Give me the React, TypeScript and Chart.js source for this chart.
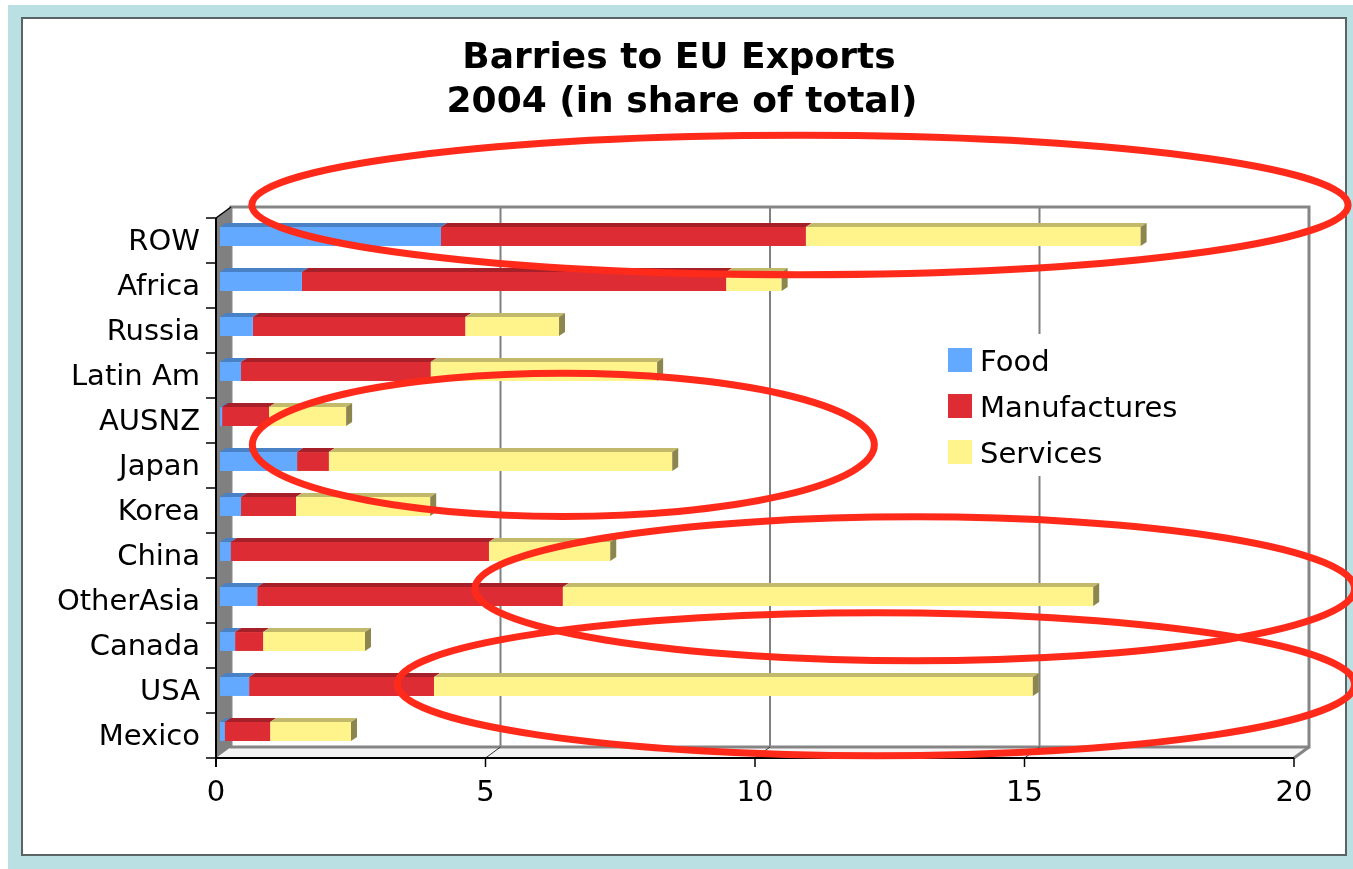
import React, { useEffect, useRef } from "react";
import { Chart, registerables } from "chart.js";

Chart.register(...registerables);

// ---------- data ----------
const categories = ["ROW", "Africa", "Russia", "Latin Am", "AUSNZ", "Japan", "Korea", "China", "OtherAsia", "Canada", "USA", "Mexico"];
const seriesNames = ["Food", "Manufactures", "Services"];
const food = [4.10, 1.52, 0.61, 0.39, 0.04, 1.43, 0.39, 0.20, 0.69, 0.28, 0.54, 0.09];
const manufactures = [6.77, 7.87, 3.94, 3.52, 0.87, 0.59, 1.02, 4.79, 5.67, 0.52, 3.43, 0.84];
const services = [6.21, 1.03, 1.74, 4.20, 1.43, 6.37, 2.49, 2.25, 9.84, 1.89, 11.11, 1.50];
const xTicks = [0, 5, 10, 15, 20];
const titleLines = ["Barries to EU Exports", "2004 (in share of total)"];

// hand-drawn annotation ellipses, in data units (value axis / category index)
const ellipseCenterValue = [10.76, 6.37, 12.89, 12.17];
const ellipseCenterRow = [-0.70, 4.63, 7.83, 9.95];
const ellipseRadiusValue = [10.17, 5.77, 8.16, 8.88];
const ellipseRadiusRow = [1.55, 1.59, 1.60, 1.59];

// ---------- styles ----------
const FONT = '"DejaVu Sans", Verdana, sans-serif';
const frontColors = ["#63a9ff", "#dd2c33", "#fff48c"];
const topColors = ["#4a80c4", "#a6202a", "#c3b96a"];
const sideColors = ["#3d6aa3", "#8a1a22", "#8c864e"];
const FRONT = { dx: -4, dy: 4 };
const BACK = { dx: 11, dy: -7 };
const DEPTH = { dx: 6, dy: -4 };

const chart3d = {
  id: "chart3d",
  beforeDraw(chart: any) {
    const { ctx, width, height } = chart;
    ctx.save();
    ctx.fillStyle = "#ffffff";
    ctx.fillRect(0, 0, width, height);
    ctx.fillStyle = "#bae0e3";
    ctx.fillRect(8, 5, width - 8, height - 5);
    ctx.fillStyle = "#ffffff";
    ctx.fillRect(22, 18, 1324, 837);
    ctx.strokeStyle = "#5b6464";
    ctx.lineWidth = 2;
    ctx.strokeRect(22, 18, 1324, 837);
    ctx.fillStyle = "#000000";
    ctx.font = `bold 36px ${FONT}`;
    ctx.textAlign = "center";
    ctx.textBaseline = "alphabetic";
    ctx.fillText(titleLines[0], 679, 68);
    ctx.fillText(titleLines[1], 682, 112);
    ctx.restore();
  },
  beforeDatasetsDraw(chart: any) {
    const { ctx, chartArea: a, scales } = chart;
    const xs = scales.x;
    const L = a.left, R = a.right, T = a.top, B = a.bottom;
    ctx.save();
    // back wall
    ctx.fillStyle = "#ffffff";
    ctx.fillRect(L + BACK.dx, T + BACK.dy, R - L, B - T);
    // floor
    ctx.beginPath();
    ctx.moveTo(L + FRONT.dx, B + FRONT.dy);
    ctx.lineTo(R + FRONT.dx, B + FRONT.dy);
    ctx.lineTo(R + BACK.dx, B + BACK.dy);
    ctx.lineTo(L + BACK.dx, B + BACK.dy);
    ctx.closePath();
    ctx.fillStyle = "#f4f4f4";
    ctx.fill();
    // gridlines on back wall
    ctx.strokeStyle = "#808080";
    ctx.lineWidth = 2;
    xTicks.forEach((v) => {
      if (v === xTicks[0]) return;
      const px = xs.getPixelForValue(v);
      ctx.beginPath();
      ctx.moveTo(px + BACK.dx, T + BACK.dy);
      ctx.lineTo(px + BACK.dx, B + BACK.dy);
      ctx.stroke();
    });
    // back wall border
    ctx.lineWidth = 3;
    ctx.strokeStyle = "#858585";
    ctx.strokeRect(L + BACK.dx, T + BACK.dy, R - L, B - T);
    // floor right edge
    ctx.beginPath();
    ctx.moveTo(R + FRONT.dx, B + FRONT.dy);
    ctx.lineTo(R + BACK.dx, B + BACK.dy);
    ctx.stroke();
    // floor gridlines
    ctx.strokeStyle = "#333333";
    ctx.lineWidth = 1;
    xTicks.forEach((v) => {
      if (v === xTicks[0] || v === xTicks[xTicks.length - 1]) return;
      const px = xs.getPixelForValue(v);
      ctx.beginPath();
      ctx.moveTo(px + FRONT.dx, B + FRONT.dy);
      ctx.lineTo(px + BACK.dx, B + BACK.dy);
      ctx.stroke();
    });
    // left wall
    ctx.beginPath();
    ctx.moveTo(L + FRONT.dx, T + FRONT.dy);
    ctx.lineTo(L + BACK.dx, T + BACK.dy);
    ctx.lineTo(L + BACK.dx, B + BACK.dy);
    ctx.lineTo(L + FRONT.dx, B + FRONT.dy);
    ctx.closePath();
    ctx.fillStyle = "#808080";
    ctx.fill();
    ctx.strokeStyle = "#000000";
    ctx.lineWidth = 1.5;
    ctx.beginPath();
    ctx.moveTo(L + FRONT.dx, T + FRONT.dy);
    ctx.lineTo(L + BACK.dx, T + BACK.dy);
    ctx.stroke();
    // front axes
    ctx.lineWidth = 2;
    ctx.beginPath();
    ctx.moveTo(L + FRONT.dx, T + FRONT.dy);
    ctx.lineTo(L + FRONT.dx, B + FRONT.dy + 9);
    ctx.moveTo(L + FRONT.dx, B + FRONT.dy);
    ctx.lineTo(R + FRONT.dx, B + FRONT.dy);
    ctx.stroke();
    // category ticks
    const n = categories.length;
    const band = (B - T) / n;
    ctx.lineWidth = 1.5;
    for (let k = 0; k <= n; k++) {
      const yy = T + FRONT.dy + k * band;
      ctx.beginPath();
      ctx.moveTo(L + FRONT.dx - 10, yy);
      ctx.lineTo(L + FRONT.dx, yy);
      ctx.stroke();
    }
    // value ticks
    xTicks.forEach((v) => {
      const px = xs.getPixelForValue(v) + FRONT.dx;
      ctx.beginPath();
      ctx.moveTo(px, B + FRONT.dy);
      ctx.lineTo(px, B + FRONT.dy + 9);
      ctx.stroke();
    });
    ctx.restore();
  },
  afterDatasetsDraw(chart: any) {
    const { ctx } = chart;
    ctx.save();
    const nSets = chart.data.datasets.length;
    const metas = [];
    for (let d = 0; d < nSets; d++) metas.push(chart.getDatasetMeta(d));
    categories.forEach((_, i) => {
      let lastIdx = -1;
      for (let d = 0; d < nSets; d++) {
        const val = chart.data.datasets[d].data[i];
        const el = metas[d].data[i];
        if (!el || !(val > 0)) continue;
        const left = Math.min(el.base, el.x);
        const right = Math.max(el.base, el.x);
        const top = el.y - el.height / 2;
        ctx.beginPath();
        ctx.moveTo(left, top);
        ctx.lineTo(left + DEPTH.dx, top + DEPTH.dy);
        ctx.lineTo(right + DEPTH.dx, top + DEPTH.dy);
        ctx.lineTo(right, top);
        ctx.closePath();
        ctx.fillStyle = topColors[d];
        ctx.fill();
        lastIdx = d;
      }
      if (lastIdx >= 0) {
        const el = metas[lastIdx].data[i];
        const right = Math.max(el.base, el.x);
        const top = el.y - el.height / 2;
        const bottom = el.y + el.height / 2;
        ctx.beginPath();
        ctx.moveTo(right, top);
        ctx.lineTo(right + DEPTH.dx, top + DEPTH.dy);
        ctx.lineTo(right + DEPTH.dx, bottom + DEPTH.dy);
        ctx.lineTo(right, bottom);
        ctx.closePath();
        ctx.fillStyle = sideColors[lastIdx];
        ctx.fill();
      }
    });
    // legend
    ctx.fillStyle = "#ffffff";
    ctx.fillRect(938, 334, 252, 142);
    ctx.font = `29px ${FONT}`;
    ctx.textAlign = "left";
    ctx.textBaseline = "alphabetic";
    seriesNames.forEach((name, d) => {
      const yTop = 348 + d * 46;
      ctx.fillStyle = frontColors[d];
      ctx.fillRect(948, yTop, 24, 24);
      ctx.fillStyle = "#000000";
      ctx.fillText(name, 980, yTop + 23);
    });
    ctx.restore();
  },
  afterDraw(chart: any) {
    const { ctx, scales } = chart;
    const xs = scales.x, ys = scales.y;
    ctx.save();
    ctx.strokeStyle = "#ff2a1a";
    ctx.lineWidth = 7;
    ellipseCenterValue.forEach((cv, i) => {
      const cx = xs.getPixelForValue(cv);
      const rx = xs.getPixelForValue(cv + ellipseRadiusValue[i]) - cx;
      const cy = ys.getPixelForValue(ellipseCenterRow[i]);
      const ry = Math.abs(ys.getPixelForValue(ellipseCenterRow[i] + ellipseRadiusRow[i]) - cy);
      ctx.beginPath();
      ctx.ellipse(cx, cy, rx, ry, 0, 0, Math.PI * 2);
      ctx.stroke();
    });
    ctx.restore();
  },
};

export default function App() {
  const ref = useRef<HTMLCanvasElement | null>(null);
  useEffect(() => {
    if (!ref.current) return;
    const chart = new Chart(ref.current, {
      type: "bar",
      data: {
        labels: categories,
        datasets: [food, manufactures, services].map((vals, d) => ({
          label: seriesNames[d],
          data: vals,
          backgroundColor: frontColors[d],
          borderWidth: 0,
          barPercentage: 0.42,
          categoryPercentage: 1,
          stack: "s",
        })),
      },
      options: {
        indexAxis: "y",
        responsive: false,
        animation: false,
        layout: { padding: { left: 0, right: 55, top: 214, bottom: 55 } },
        plugins: {
          legend: { display: false },
          title: { display: false },
          tooltip: { enabled: false },
        },
        scales: {
          x: {
            type: "linear",
            stacked: true,
            min: 0,
            max: 20,
            grid: { display: false, drawTicks: false },
            border: { display: false },
            ticks: {
              stepSize: 5,
              color: "#000000",
              font: { family: FONT, size: 29 },
              padding: 22,
              labelOffset: -4,
              maxRotation: 0,
              autoSkip: false,
            },
            afterFit: (s: any) => {
              s.height = 60;
            },
          },
          y: {
            stacked: true,
            grid: { display: false, drawTicks: false },
            border: { display: false },
            ticks: {
              color: "#000000",
              font: { family: FONT, size: 29 },
              padding: 20,
              labelOffset: 6,
              autoSkip: false,
            },
            afterFit: (s: any) => {
              s.width = 220;
            },
          },
        },
      },
      plugins: [chart3d],
    } as any);
    return () => chart.destroy();
  }, []);
  return (
    <canvas
      ref={ref}
      width={1353}
      height={869}
      style={{ position: "fixed", left: 0, top: 0, width: 1353, height: 869, display: "block" }}
    />
  );
}
